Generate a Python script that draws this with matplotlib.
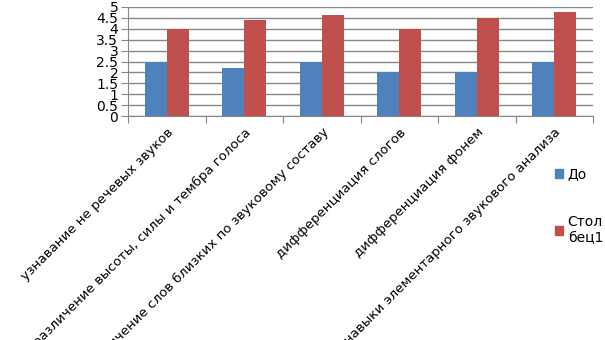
import numpy as np
import matplotlib.pyplot as plt
from matplotlib.patches import Patch

categories = [
    'узнавание не речевых звуков',
    'различение высоты, силы и тембра голоса',
    'различение слов близких по звуковому составу',
    'дифференциация слогов',
    'дифференциация фонем',
    'навыки элементарного звукового анализа',
]
do_values = [2.5, 2.2, 2.5, 2.0, 2.0, 2.5]
col1_values = [4.0, 4.4, 4.63, 4.0, 4.5, 4.75]
series_names = ['До', 'Стол\nбец1']
yticks = [0, 0.5, 1, 1.5, 2, 2.5, 3, 3.5, 4, 4.5, 5]

blue = '#4F81BD'
red = '#C0504D'
grey = '#868686'

fig = plt.figure(figsize=(6.05, 3.4), dpi=100)
ax = fig.add_axes([128 / 605, 1 - 116 / 340, (593 - 128) / 605, (116 - 7) / 340])

x = np.arange(len(categories))
w = 0.285
ax.bar(x - w / 2, do_values, width=w, color=blue, zorder=3)
ax.bar(x + w / 2, col1_values, width=w, color=red, zorder=3)

ax.set_xlim(-0.5, len(categories) - 0.5)
ax.set_ylim(0, 5)
ax.set_yticks(yticks)
ax.set_yticklabels([f'{v:g}' for v in yticks], fontsize=10)
ax.yaxis.grid(True, color=grey, linewidth=1, zorder=0)

# category boundaries get the tick marks, labels sit at the centres
ax.set_xticks(np.arange(len(categories) + 1) - 0.5)
ax.set_xticklabels([])
ax.set_xticks(x, minor=True)
ax.set_xticklabels(categories, minor=True, rotation=45, ha='right', va='top',
                   rotation_mode='anchor', fontsize=9.5)
ax.tick_params(axis='x', which='minor', length=0, pad=7)
ax.tick_params(axis='x', which='major', length=5, color=grey)
ax.tick_params(axis='y', length=5, color=grey, pad=2)

for s in ['top', 'right']:
    ax.spines[s].set_visible(False)
for s in ['left', 'bottom']:
    ax.spines[s].set_color(grey)

handles = [Patch(color=blue), Patch(color=red)]
fig.legend(handles, series_names, loc='upper left', bbox_to_anchor=(549 / 605, 1 - 162 / 340),
           frameon=False, fontsize=10, handlelength=0.6, handleheight=0.6,
           handletextpad=0.35, labelspacing=2.4, borderaxespad=0)

fig.savefig('out.png', dpi=100)
